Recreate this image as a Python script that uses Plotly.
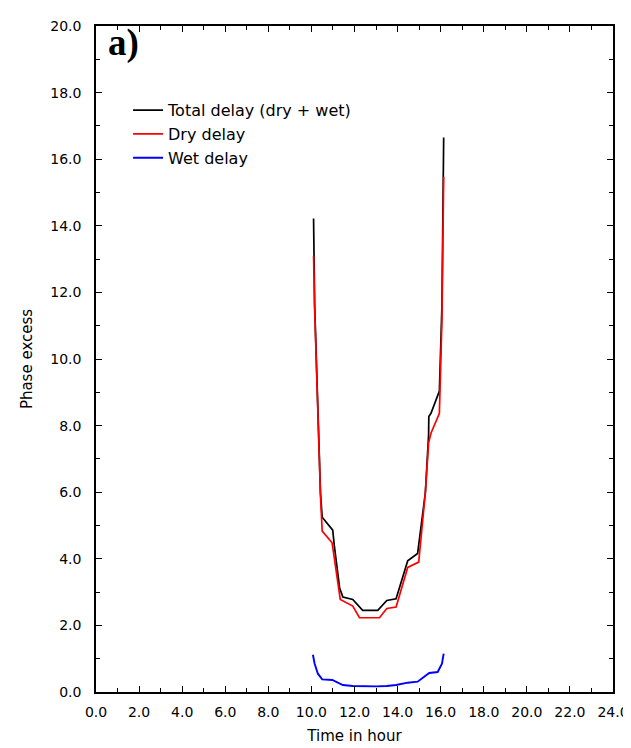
import plotly.graph_objects as go

# Total delay (dry + wet)
t_total = [10.10, 10.15, 10.42, 10.50, 10.99, 11.06, 11.31, 11.46, 11.92, 12.38, 13.08,
           13.50, 13.93, 14.47, 14.93, 15.29, 15.44, 15.45, 15.55, 15.94, 16.06, 16.14]
v_total = [14.22, 11.63, 5.99, 5.25, 4.86, 4.41, 3.12, 2.85, 2.78, 2.45, 2.45,
           2.75, 2.80, 3.94, 4.16, 5.99, 7.72, 8.27, 8.37, 9.04, 11.63, 16.65]

# Dry delay
t_dry = [10.10, 10.15, 10.42, 10.50, 10.96, 11.34, 11.92, 12.23, 13.16, 13.50, 13.93,
         14.47, 14.98, 15.29, 15.44, 15.55, 15.94, 16.06, 16.14]
v_dry = [13.09, 11.50, 5.90, 4.83, 4.48, 2.78, 2.58, 2.23, 2.23, 2.51, 2.55,
         3.74, 3.90, 5.99, 7.48, 7.77, 8.37, 11.20, 15.47]

# Wet delay
t_wet = [10.07, 10.15, 10.30, 10.50, 10.97, 11.46, 11.92, 12.50, 13.00, 13.50, 13.93,
         14.47, 14.93, 15.47, 15.86, 16.06, 16.14]
v_wet = [1.12, 0.85, 0.55, 0.38, 0.36, 0.21, 0.18, 0.17, 0.17, 0.18, 0.21,
         0.28, 0.31, 0.57, 0.60, 0.85, 1.15]

x_ticks = [0, 2, 4, 6, 8, 10, 12, 14, 16, 18, 20, 22, 24]
y_ticks = [0, 2, 4, 6, 8, 10, 12, 14, 16, 18, 20]

fig = go.Figure()
fig.add_trace(go.Scatter(x=t_total, y=v_total, mode="lines", name="Total delay (dry + wet)",
                         line=dict(color="black", width=1.7)))
fig.add_trace(go.Scatter(x=t_dry, y=v_dry, mode="lines", name="Dry delay",
                         line=dict(color="#ff0000", width=1.7)))
fig.add_trace(go.Scatter(x=t_wet, y=v_wet, mode="lines", name="Wet delay",
                         line=dict(color="#0000ff", width=1.9)))

font_main = "DejaVu Sans, Liberation Sans, sans-serif"

fig.update_layout(
    width=631, height=748,
    margin=dict(l=88, r=25, t=10, b=64),
    paper_bgcolor="white", plot_bgcolor="white",
    font=dict(family=font_main, size=14, color="black"),
    showlegend=True,
    legend=dict(x=0.062, y=0.899, xanchor="left", yanchor="top",
                bgcolor="rgba(0,0,0,0)", font=dict(size=16, color="black"),
                itemwidth=30, tracegroupgap=0),
    annotations=[dict(text="<b>a)</b>", x=0.019, y=0.975, xref="paper", yref="paper",
                      xanchor="left", yanchor="middle", showarrow=False,
                      font=dict(family="Liberation Serif, Times New Roman, serif", size=37, color="black"))],
)

axis_common = dict(showline=True, linecolor="black", linewidth=1.5, mirror="ticks",
                   ticks="inside", ticklen=6, tickwidth=1.2, tickcolor="black",
                   showgrid=False, zeroline=False, tickformat=".1f",
                   tickfont=dict(family=font_main, size=14, color="black"))

fig.update_xaxes(range=[0, 24], tickvals=x_ticks, ticklabelstandoff=6,
                 minor=dict(dtick=1, ticks="inside", ticklen=4, tickcolor="black", showgrid=False),
                 title=dict(text="Time in hour", font=dict(size=15), standoff=12),
                 **axis_common)
fig.update_yaxes(range=[0, 20], tickvals=y_ticks, ticklabelstandoff=10,
                 minor=dict(dtick=1, ticks="inside", ticklen=4, tickcolor="black", showgrid=False),
                 title=dict(text="Phase excess", font=dict(size=15), standoff=14),
                 **axis_common)

fig.write_html("out.html")
